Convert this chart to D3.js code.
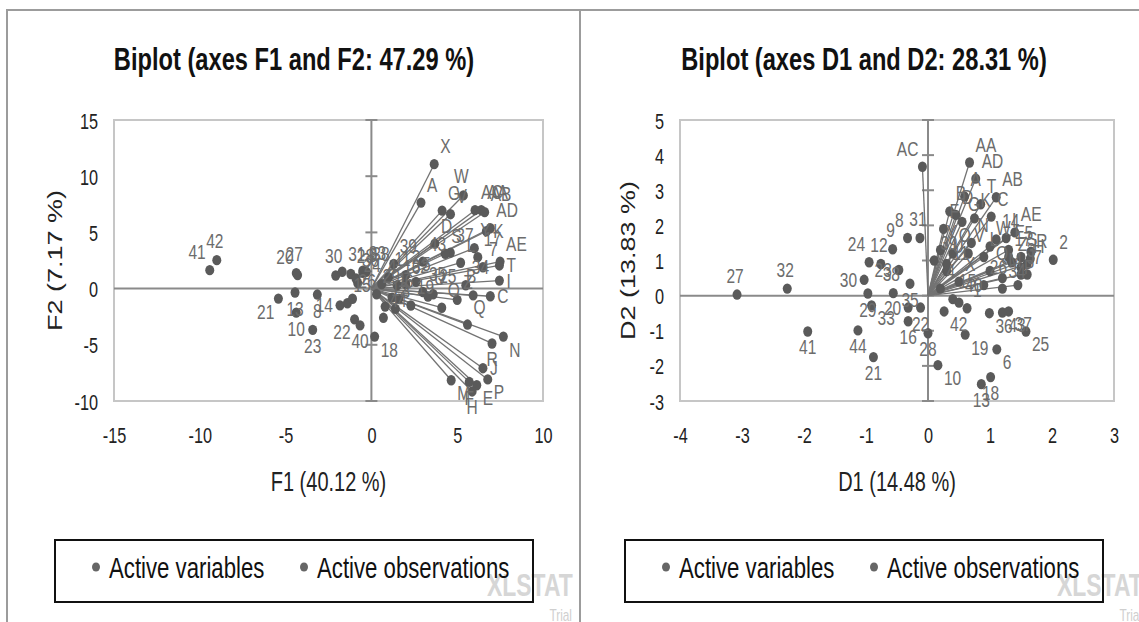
<!DOCTYPE html>
<html>
<head>
<meta charset="utf-8">
<script src="https://d3js.org/d3.v7.min.js"></script>
<style>
  html, body { margin: 0; padding: 0; background: #fff; }
  svg { display: block; font-family: "Liberation Sans", Arial, sans-serif; }
</style>
</head>
<body>
<svg id="chart" width="1139" height="622"></svg>
<script>
// ---- data ----
// F1/F2 biplot: variables are drawn as vectors from the origin
const f12Variables = [
  ["A", 2.89, 7.65], ["B", 5.93, -0.6], ["C", 6.93, -0.68], ["D", 3.7, 4.0],
  ["E", 6.14, -8.6], ["F", 5.7, -8.3], ["G", 4.12, 6.94], ["H", 5.87, -9.15],
  ["I", 7.46, 0.71], ["J", 6.5, -7.08], ["K", 6.7, 5.1], ["L", 5.2, 2.3],
  ["M", 4.65, -8.15], ["N", 7.69, -4.27], ["O", 4.1, -1.7], ["P", 6.78, -8.08],
  ["Q", 5.6, -3.2], ["R", 7.03, -4.88], ["S", 4.3, 3.1], ["T", 7.46, 2.06],
  ["U", 3.3, -0.7], ["V", 4.61, 6.62], ["W", 5.36, 8.29], ["X", 3.66, 11.07],
  ["Y", 6.0, 3.6], ["Z", 5.0, -1.0], ["AA", 6.4, 6.98], ["AB", 6.6, 6.8],
  ["AC", 6.04, 6.98], ["AD", 6.93, 5.37], ["AE", 7.5, 2.4]
];
const f12Observations = [
  ["1", 1.2, -0.8], ["2", 2.0, 1.2], ["3", 1.4, -1.8], ["4", 0.6, 0.4],
  ["5", 2.6, 0.6], ["6", 1.6, -0.9], ["7", 6.5, 1.9], ["8", -3.15, -0.53],
  ["9", -0.5, 1.4], ["10", -4.38, -2.14], ["11", 1.0, 1.0], ["12", 0.8, -1.6],
  ["13", -4.45, -0.35], ["14", -1.83, -1.49], ["15", -1.4, -1.3], ["16", 1.5, 0.3],
  ["17", 6.2, 2.8], ["18", 0.19, -4.27], ["19", 2.3, -1.5], ["20", -4.3, 1.2],
  ["21", -5.42, -0.89], ["22", -0.98, -2.74], ["23", -3.42, -3.67], ["24", -0.8, 0.5],
  ["25", 3.6, -0.5], ["26", -1.1, -0.9], ["27", -4.38, 1.38], ["28", -1.2, 1.3],
  ["29", 0.3, -0.5], ["30", -2.08, 1.17], ["31", -1.7, 1.5], ["32", 2.0, 0.4],
  ["33", -0.5, 1.6], ["34", 5.5, 0.3], ["35", 3.0, -0.3], ["36", -0.9, 0.9],
  ["37", 4.6, 3.2], ["38", -0.3, 1.5], ["39", 1.3, 2.2], ["40", -0.66, -3.27],
  ["41", -9.42, 1.64], ["42", -9.01, 2.53], ["43", 3.0, 2.4], ["44", 0.7, -2.6]
];
const f12XTicks = [-15, -10, -5, 0, 5, 10];
const f12YTicks = [-10, -5, 0, 5, 10, 15];

// D1/D2 biplot
const d12Variables = [
  ["A", 0.59, 2.82], ["B", 0.35, 2.4], ["C", 1.02, 2.25], ["D", 0.45, 2.3],
  ["E", 1.3, 1.3], ["F", 0.25, 1.9], ["G", 0.55, 2.1], ["H", 1.6, 0.9],
  ["I", 1.26, 1.64], ["J", 1.5, 0.6], ["K", 0.75, 2.2], ["L", 0.9, 1.1],
  ["M", 1.2, 0.5], ["N", 0.7, 1.5], ["O", 0.4, 1.2], ["P", 1.45, 0.3],
  ["Q", 1.0, 0.7], ["R", 1.65, 1.05], ["S", 1.5, 1.1], ["T", 0.85, 2.6],
  ["U", 0.3, 0.9], ["V", 0.65, 1.2], ["W", 1.0, 1.4], ["X", 0.5, 0.4],
  ["Y", 0.2, 1.3], ["Z", 1.35, 0.95], ["AA", 0.67, 3.79], ["AB", 1.1, 2.8],
  ["AC", -0.09, 3.67], ["AD", 0.77, 3.33], ["AE", 1.4, 1.8]
];
const d12Observations = [
  ["1", 0.63, -0.36], ["2", 2.02, 1.02], ["3", 1.5, 0.8], ["4", 0.2, 0.2],
  ["5", 1.66, 1.25], ["6", 1.11, -1.53], ["7", 1.6, 0.6], ["8", -0.33, 1.64],
  ["9", -0.57, 1.32], ["10", 0.16, -1.98], ["11", 0.3, 0.7], ["12", -0.76, 0.9],
  ["13", 0.86, -2.52], ["14", 1.1, 1.6], ["15", 0.4, -0.1], ["16", -0.32, -0.73],
  ["17", 1.3, 1.1], ["18", 1.01, -2.32], ["19", 0.6, -1.11], ["20", -0.32, -0.34],
  ["21", -0.88, -1.75], ["22", -0.12, -0.34], ["23", -0.47, 0.73], ["24", -0.95, 0.95],
  ["25", 1.58, -1.02], ["26", 0.9, 0.3], ["27", -3.08, 0.03], ["28", 0.0, -1.07],
  ["29", -0.97, 0.06], ["30", -1.03, 0.45], ["31", -0.13, 1.64], ["32", -2.27, 0.2],
  ["33", -0.91, -0.28], ["34", 1.2, 0.2], ["35", -0.29, 0.34], ["36", 0.99, -0.5],
  ["37", 1.3, -0.45], ["38", -0.56, 0.07], ["39", 0.1, 1.0], ["40", 0.5, -0.2],
  ["41", -1.94, -1.02], ["42", 0.26, -0.45], ["43", 1.2, -0.48], ["44", -1.13, -0.99]
];
const d12XTicks = [-4, -3, -2, -1, 0, 1, 2, 3];
const d12YTicks = [-3, -2, -1, 0, 1, 2, 3, 4, 5];

const legendItems = ["Active variables", "Active observations"];

// where XLSTAT put each point label (t = top, b = bottom, l/r = left/right); default tr
const f12LabelSide = {
  "41": "tl", "42": "t", "27": "t", "20": "tl", "21": "bl", "13": "b", "10": "b",
  "8": "b", "23": "b", "30": "t", "14": "l", "22": "bl", "40": "b", "18": "br",
  "C": "r", "N": "br", "R": "b", "J": "r", "P": "br", "M": "br", "H": "b",
  "E": "br", "F": "b", "T": "r", "I": "r", "K": "r", "W": "t", "B": "t"
};
const d12LabelSide = {
  "27": "t", "32": "t", "41": "b", "44": "b", "21": "b", "10": "br", "6": "br",
  "19": "br", "25": "br", "AC": "tl", "13": "b", "18": "b", "28": "b", "42": "br",
  "37": "br", "36": "br", "43": "br", "29": "b", "33": "br", "12": "t", "9": "t",
  "8": "tl", "31": "t", "24": "tl", "30": "l", "16": "b", "20": "l", "22": "b",
  "5": "t", "1": "tr", "38": "t", "23": "l", "35": "b"
};

// ---- drawing ----
const SX = 0.74; // the source picture is squeezed horizontally, text included
const DOT = "#5a5a5a", VEC = "#737373", LBL = "#6c6c6c";
const svg = d3.select("#chart");

function txt(g, x, y, str, size, anchor, fill, weight) {
  return g.append("text")
    .attr("transform", `translate(${x},${y}) scale(${SX},1)`)
    .attr("text-anchor", anchor)
    .attr("font-size", size)
    .attr("font-weight", weight || "normal")
    .attr("fill", fill)
    .text(str);
}

const sideOffsets = {
  tr: [6, -11, "start"], tl: [-4, -11, "end"], t: [-2, -12, "middle"],
  br: [6, 20, "start"], bl: [-4, 20, "end"], b: [0, 23, "middle"],
  r: [7, 7, "start"], l: [-7, 7, "end"]
};

const panels = [
  {
    x0: 7, width: 573, title: "Biplot (axes F1 and F2: 47.29 %)",
    xTitle: "F1 (40.12 %)", yTitle: "F2 (7.17 %)",
    plot: { left: 114, right: 543, top: 120, bottom: 401 },
    xDomain: [-15, 10], yDomain: [-10, 15], xTicks: f12XTicks, yTicks: f12YTicks,
    vars: f12Variables, obs: f12Observations, sides: f12LabelSide,
    yTitleX: 55, shift: 0
  },
  {
    x0: 580, width: 570, title: "Biplot (axes D1 and D2: 28.31 %)",
    xTitle: "D1 (14.48 %)", yTitle: "D2 (13.83 %)",
    plot: { left: 680, right: 1114, top: 120, bottom: 401 },
    xDomain: [-4, 3], yDomain: [-3, 5], xTicks: d12XTicks, yTicks: d12YTicks,
    vars: d12Variables, obs: d12Observations, sides: d12LabelSide,
    yTitleX: 628, shift: 570
  }
];

panels.forEach((p, i) => {
  const clipId = "clip" + i;
  svg.append("clipPath").attr("id", clipId)
    .append("rect").attr("x", p.x0).attr("y", 0).attr("width", p.width).attr("height", 622);
  const g = svg.append("g").attr("clip-path", `url(#${clipId})`);

  const x = d3.scaleLinear().domain(p.xDomain).range([p.plot.left, p.plot.right]);
  const y = d3.scaleLinear().domain(p.yDomain).range([p.plot.bottom, p.plot.top]);

  // XLSTAT trial watermark
  txt(g, 487 + p.shift, 596, "XLSTAT", 31, "start", "#d6d6d6", "bold");
  txt(g, 572 + p.shift, 621, "Trial", 16, "end", "#cfcfcf");

  // title
  txt(g, 294 + p.shift, 70, p.title, 32, "middle", "#111", "bold");

  // plot frame
  g.append("rect")
    .attr("x", p.plot.left).attr("y", p.plot.top)
    .attr("width", p.plot.right - p.plot.left).attr("height", p.plot.bottom - p.plot.top)
    .attr("fill", "none").attr("stroke", "#c6c6c6").attr("stroke-width", 2);

  // tick labels through d3 axes, placed at the frame edges
  const ya = g.append("g").attr("transform", `translate(${p.plot.left},0)`)
    .call(d3.axisLeft(y).tickValues(p.yTicks).tickSize(0).tickFormat(d => String(d)));
  const xa = g.append("g").attr("transform", `translate(0,${p.plot.bottom})`)
    .call(d3.axisBottom(x).tickValues(p.xTicks).tickSize(0).tickFormat(d => String(d)));
  [ya, xa].forEach(a => {
    a.attr("font-size", null).attr("font-family", null);
    a.select(".domain").remove();
  });
  ya.selectAll("text").attr("x", null).attr("dy", null)
    .attr("transform", `translate(-16,8) scale(${SX},1)`)
    .attr("font-size", 22).attr("fill", "#222").attr("text-anchor", "end");
  xa.selectAll("text").attr("y", null).attr("dy", null)
    .attr("transform", `translate(0,42) scale(${SX},1)`)
    .attr("font-size", 22).attr("fill", "#222").attr("text-anchor", "middle");

  // axes through the origin
  g.append("line")
    .attr("x1", x(0)).attr("x2", x(0)).attr("y1", p.plot.top).attr("y2", p.plot.bottom)
    .attr("stroke", "#8a8a8a").attr("stroke-width", 2);
  g.append("line")
    .attr("x1", p.plot.left).attr("x2", p.plot.right).attr("y1", y(0)).attr("y2", y(0))
    .attr("stroke", "#8a8a8a").attr("stroke-width", 2);
  g.selectAll(".ytick").data(p.yTicks).enter().append("line")
    .attr("x1", x(0) - 6).attr("x2", x(0) + 6)
    .attr("y1", d => y(d)).attr("y2", d => y(d))
    .attr("stroke", "#8a8a8a").attr("stroke-width", 2);

  // axis titles
  txt(g, (p.plot.left + p.plot.right) / 2, 491, p.xTitle, 27, "middle", "#222");
  g.append("text")
    .attr("transform", `translate(${p.yTitleX},${(p.plot.top + p.plot.bottom) / 2}) scale(${SX},1) rotate(-90)`)
    .attr("text-anchor", "middle").attr("dy", "0.35em")
    .attr("font-size", 27).attr("fill", "#222")
    .text(p.yTitle);

  // variable vectors
  g.selectAll(".vec").data(p.vars).enter().append("line")
    .attr("x1", x(0)).attr("y1", y(0))
    .attr("x2", d => x(d[1])).attr("y2", d => y(d[2]))
    .attr("stroke", VEC).attr("stroke-width", 1.3);

  // points
  const pts = p.obs.concat(p.vars);
  g.selectAll(".pt").data(pts).enter().append("ellipse")
    .attr("cx", d => x(d[1])).attr("cy", d => y(d[2]))
    .attr("rx", 4.5).attr("ry", 5.2)
    .attr("fill", DOT);

  // point labels
  pts.forEach(d => {
    const o = sideOffsets[p.sides[d[0]] || "tr"];
    txt(g, x(d[1]) + o[0], y(d[2]) + o[1], d[0], 21, o[2], LBL);
  });

  // legend
  const lx = 55 + p.shift;
  g.append("rect").attr("x", lx).attr("y", 540).attr("width", 478).attr("height", 62)
    .attr("fill", "none").attr("stroke", "#111").attr("stroke-width", 2);
  const legendX = [41, 249];
  legendItems.forEach((name, k) => {
    g.append("ellipse").attr("cx", lx + legendX[k]).attr("cy", 567)
      .attr("rx", 4).attr("ry", 4.6).attr("fill", "#666");
    txt(g, lx + legendX[k] + 13, 578, name, 30, "start", "#111");
  });
});

// outer frame and the divider between the two charts
svg.append("path")
  .attr("d", "M7,622 V10 H1139 M580,10 V622")
  .attr("fill", "none").attr("stroke", "#9c9c9c").attr("stroke-width", 2);
</script>
</body>
</html>
